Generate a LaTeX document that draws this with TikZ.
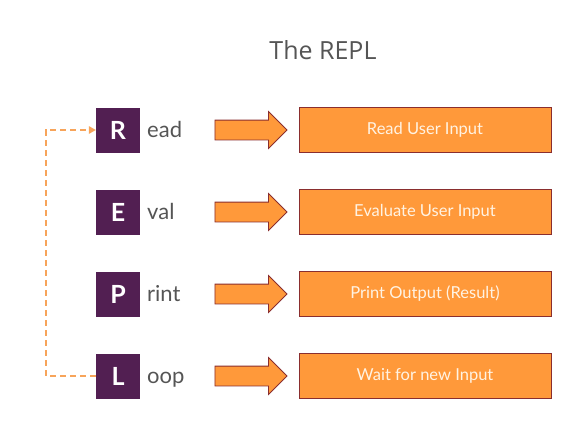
\documentclass[tikz,border=0pt]{standalone}
\usepackage{fontspec}
\setmainfont{Lato}
\newfontfamily\titlefont{Open Sans}
\usetikzlibrary{shapes.arrows,arrows.meta}
\definecolor{rorange}{HTML}{FF993A}
\definecolor{rborder}{HTML}{8A2E2E}
\definecolor{rpurple}{HTML}{521F52}
\definecolor{rdash}{HTML}{F7A45A}
\definecolor{rgraytxt}{HTML}{555555}
\definecolor{rcream}{HTML}{FFF3E3}
\tikzset{
  letterbox/.style={fill=rpurple, minimum width=44pt, minimum height=45pt, inner sep=0pt, text=white, font=\fontsize{25}{28}\selectfont\bfseries},
  resttext/.style={anchor=base west, text=rgraytxt, font=\fontsize{22}{26}\selectfont, inner sep=0pt},
  bigarrow/.style={single arrow, draw=rborder, fill=rorange, line width=0.8pt, inner xsep=0pt, inner ysep=9.5pt, minimum height=72pt, single arrow head extend=8.5pt, single arrow tip angle=90},
  stepbox/.style={draw=rborder, fill=rorange, line width=0.8pt, minimum width=252pt, minimum height=45pt, inner sep=0pt, text=rcream, font=\fontsize{16.5}{20}\selectfont},
  loopline/.style={draw=rdash, line width=2pt, dash pattern=on 6pt off 4pt}
}
\begin{document}
\begin{tikzpicture}[x=1pt,y=-1pt]
\useasboundingbox (0,0) rectangle (584,426);
\node[text=rgraytxt, font=\titlefont\fontsize{25}{29}\selectfont] (title) at (323,50) {The REPL};
\foreach \L/\R/\T/\y/\n in {R/ead/Read User Input/130/r, E/val/Evaluate User Input/212/e, P/rint/Print Output (Result)/294/p, L/oop/Wait for new Input/376/l}{
  \node[letterbox] (box\n) at (118,\y) {\L};
  \node[resttext] (rest\n) at (147,\y+7) {\R};
  \node[bigarrow] (arr\n) at (246,\y) {};
  \node[stepbox] (step\n) at (425,\y) {\T};
}
\coordinate (cornerb) at (46,376);
\coordinate (cornert) at (46,130);
\draw[loopline] (boxl.west) -- (cornerb) -- (cornert) -- ([xshift=-3pt]boxr.west);
\fill[rdash] (boxr.west) -- ++(-7,-4) -- ++(0,8) -- cycle;
\end{tikzpicture}
\end{document}
